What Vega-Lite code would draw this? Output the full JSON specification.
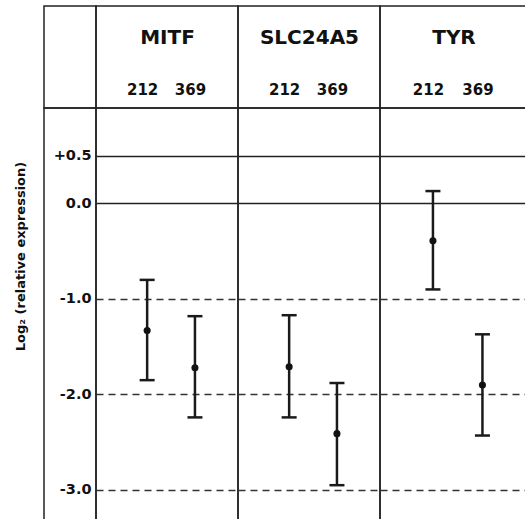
{
  "$schema": "https://vega.github.io/schema/vega-lite/v6.json",
  "background": "white",
  "padding": {"left": 13, "top": 2, "right": 0, "bottom": 0},
  "data": {"values": [
    {"gene": "MITF", "sample": "212", "mean": -1.33, "hi": -0.80, "lo": -1.85},
    {"gene": "MITF", "sample": "369", "mean": -1.72, "hi": -1.18, "lo": -2.24},
    {"gene": "SLC24A5", "sample": "212", "mean": -1.71, "hi": -1.17, "lo": -2.24},
    {"gene": "SLC24A5", "sample": "369", "mean": -2.41, "hi": -1.88, "lo": -2.95},
    {"gene": "TYR", "sample": "212", "mean": -0.39, "hi": 0.13, "lo": -0.90},
    {"gene": "TYR", "sample": "369", "mean": -1.90, "hi": -1.37, "lo": -2.43}
  ]},
  "config": {
    "view": {"stroke": "#222222", "strokeWidth": 1.5},
    "concat": {"spacing": 0},
    "font": "DejaVu Sans",
    "axis": {
      "labelFont": "DejaVu Sans", "labelFontWeight": "bold", "labelColor": "#111111",
      "titleFont": "DejaVu Sans", "titleFontWeight": "bold", "titleColor": "#111111",
      "ticks": false, "domain": false
    }
  },
  "spacing": 0,
  "bounds": "flush",
  "columns": 4,
  "concat": [
    {"data": {"values": [{"a": 1}]}, "mark": {"type": "point", "opacity": 0}, "width": 52, "height": 102,
     "encoding": {"x": {"field": "a", "type": "quantitative", "axis": null}, "y": {"field": "a", "type": "quantitative", "axis": null}}},
    {"data": {"values": [{"a": 1}]}, "mark": {"type": "point", "opacity": 0}, "width": 142, "height": 102,
     "encoding": {"x": {"field": "a", "type": "quantitative", "axis": null}, "y": {"field": "a", "type": "quantitative", "axis": null}}},
    {"data": {"values": [{"a": 1}]}, "mark": {"type": "point", "opacity": 0}, "width": 142, "height": 102,
     "encoding": {"x": {"field": "a", "type": "quantitative", "axis": null}, "y": {"field": "a", "type": "quantitative", "axis": null}}},
    {"data": {"values": [{"a": 1}]}, "mark": {"type": "point", "opacity": 0}, "width": 147, "height": 102,
     "encoding": {"x": {"field": "a", "type": "quantitative", "axis": null}, "y": {"field": "a", "type": "quantitative", "axis": null}}},
    {"data": {"values": [{"a": 1}]}, "mark": {"type": "point", "opacity": 0}, "width": 52, "height": 413,
     "encoding": {"x": {"field": "a", "type": "quantitative", "axis": null}, "y": {"field": "a", "type": "quantitative", "axis": null}}},
    {
      "width": 142, "height": 413,
      "transform": [{"filter": "datum.gene === 'MITF'"}],
      "encoding": {
        "x": {"field": "sample", "type": "nominal", "sort": ["212", "369"],
          "scale": {"type": "point", "padding": 0.985, "align": 0.543},
          "axis": {"orient": "top", "title": "MITF", "labelAngle": 0, "labelPadding": 11, "titlePadding": 35, "labelFontSize": 15, "titleFontSize": 20, "labelOffset": -5, "grid": false}}
      },
      "layer": [
        {"mark": {"type": "rule", "strokeWidth": 2.5, "color": "#1a1a1a"},
         "encoding": {
           "y": {"field": "lo", "type": "quantitative", "title": "Log₂ (relative expression)",
             "scale": {"domain": [-3.325, 1.0], "nice": false, "zero": false},
             "axis": {"values": [0.5, 0, -1, -2, -3], "labelExpr": "(datum.value > 0 ? '+' : datum.value < 0 ? '-' : '') + format(abs(datum.value), '.1f')",
               "labelFontSize": 14.5, "labelPadding": 5, "titleFontSize": 13, "titlePadding": 26, "titleY": 148,
               "grid": true, "gridWidth": 1.5,
               "gridColor": {"condition": {"test": "datum.value < -0.5", "value": "#333333"}, "value": "#222222"},
               "gridDash": {"condition": {"test": "datum.value < -0.5", "value": [7, 5]}, "value": []}}},
           "y2": {"field": "hi"}}},
        {"mark": {"type": "tick", "orient": "horizontal", "size": 15, "thickness": 2.5, "color": "#1a1a1a", "opacity": 1},
         "encoding": {"y": {"field": "lo", "type": "quantitative", "title": "Log₂ (relative expression)"}}},
        {"mark": {"type": "tick", "orient": "horizontal", "size": 15, "thickness": 2.5, "color": "#1a1a1a", "opacity": 1},
         "encoding": {"y": {"field": "hi", "type": "quantitative", "title": "Log₂ (relative expression)"}}},
        {"mark": {"type": "point", "filled": true, "size": 50, "color": "#111111", "opacity": 1},
         "encoding": {"y": {"field": "mean", "type": "quantitative", "title": "Log₂ (relative expression)"}}}
      ]
    },
    {
      "width": 142, "height": 413,
      "transform": [{"filter": "datum.gene === 'SLC24A5'"}],
      "encoding": {
        "x": {"field": "sample", "type": "nominal", "sort": ["212", "369"],
          "scale": {"type": "point", "padding": 0.985, "align": 0.543},
          "axis": {"orient": "top", "title": "SLC24A5", "labelAngle": 0, "labelPadding": 11, "titlePadding": 35, "labelFontSize": 15, "titleFontSize": 20, "labelOffset": -5, "grid": false}}
      },
      "layer": [
        {"mark": {"type": "rule", "strokeWidth": 2.5, "color": "#1a1a1a"},
         "encoding": {
           "y": {"field": "lo", "type": "quantitative", "title": null,
             "scale": {"domain": [-3.325, 1.0], "nice": false, "zero": false},
             "axis": {"values": [0.5, 0, -1, -2, -3], "labels": false, "title": null,
               "grid": true, "gridWidth": 1.5,
               "gridColor": {"condition": {"test": "datum.value < -0.5", "value": "#333333"}, "value": "#222222"},
               "gridDash": {"condition": {"test": "datum.value < -0.5", "value": [7, 5]}, "value": []}}},
           "y2": {"field": "hi"}}},
        {"mark": {"type": "tick", "orient": "horizontal", "size": 15, "thickness": 2.5, "color": "#1a1a1a", "opacity": 1},
         "encoding": {"y": {"field": "lo", "type": "quantitative", "title": null}}},
        {"mark": {"type": "tick", "orient": "horizontal", "size": 15, "thickness": 2.5, "color": "#1a1a1a", "opacity": 1},
         "encoding": {"y": {"field": "hi", "type": "quantitative", "title": null}}},
        {"mark": {"type": "point", "filled": true, "size": 50, "color": "#111111", "opacity": 1},
         "encoding": {"y": {"field": "mean", "type": "quantitative", "title": null}}}
      ]
    },
    {
      "width": 147, "height": 413,
      "transform": [{"filter": "datum.gene === 'TYR'"}],
      "encoding": {
        "x": {"field": "sample", "type": "nominal", "sort": ["212", "369"],
          "scale": {"type": "point", "padding": 0.985, "align": 0.543},
          "axis": {"orient": "top", "title": "TYR", "labelAngle": 0, "labelPadding": 11, "titlePadding": 35, "labelFontSize": 15, "titleFontSize": 20, "labelOffset": -5, "grid": false}}
      },
      "layer": [
        {"mark": {"type": "rule", "strokeWidth": 2.5, "color": "#1a1a1a"},
         "encoding": {
           "y": {"field": "lo", "type": "quantitative", "title": null,
             "scale": {"domain": [-3.325, 1.0], "nice": false, "zero": false},
             "axis": {"values": [0.5, 0, -1, -2, -3], "labels": false, "title": null,
               "grid": true, "gridWidth": 1.5,
               "gridColor": {"condition": {"test": "datum.value < -0.5", "value": "#333333"}, "value": "#222222"},
               "gridDash": {"condition": {"test": "datum.value < -0.5", "value": [7, 5]}, "value": []}}},
           "y2": {"field": "hi"}}},
        {"mark": {"type": "tick", "orient": "horizontal", "size": 15, "thickness": 2.5, "color": "#1a1a1a", "opacity": 1},
         "encoding": {"y": {"field": "lo", "type": "quantitative", "title": null}}},
        {"mark": {"type": "tick", "orient": "horizontal", "size": 15, "thickness": 2.5, "color": "#1a1a1a", "opacity": 1},
         "encoding": {"y": {"field": "hi", "type": "quantitative", "title": null}}},
        {"mark": {"type": "point", "filled": true, "size": 50, "color": "#111111", "opacity": 1},
         "encoding": {"y": {"field": "mean", "type": "quantitative", "title": null}}}
      ]
    }
  ]
}
